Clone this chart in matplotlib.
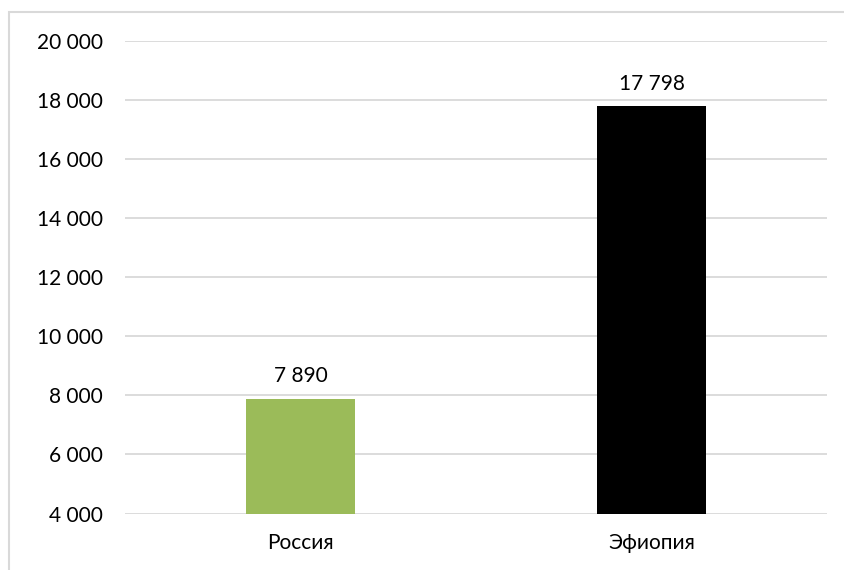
import matplotlib.pyplot as plt
from matplotlib.patches import Rectangle
from matplotlib.ticker import FuncFormatter

countries = ['Россия', 'Эфиопия']
values = [7890, 17798]
colors = ['#9BBB59', '#000000']
yticks = list(range(4000, 20001, 2000))

def fmt(v, pos=None):
    return f'{int(v):,}'.replace(',', ' ')

plt.rcParams['font.family'] = ['Lato', 'DejaVu Sans']
W, H = 844, 570
fig = plt.figure(figsize=(W/100, H/100), dpi=100)
# chart border (goes past right/bottom edge like the crop)
fig.patches.append(Rectangle((8.5/W, -0.1), 1.2, 1.1 - 12/H,
                             transform=fig.transFigure, fill=False,
                             edgecolor='#D9D9D9', linewidth=1.5))
ax = fig.add_axes([125/W, 1-513.5/H, (827-125)/W, (513.5-41.3)/H])

ax.bar(range(len(values)), values, width=0.313, color=colors, zorder=3)
ax.set_ylim(4000, 20000)
ax.set_xlim(-0.5, 1.5)
ax.set_yticks(yticks)
ax.yaxis.set_major_formatter(FuncFormatter(fmt))
ax.set_xticks(range(len(countries)))
ax.set_xticklabels(countries)
ax.grid(axis='y', color='#D9D9D9', linewidth=1.3, zorder=0)
for s in ax.spines.values():
    s.set_visible(False)
ax.tick_params(length=0, labelsize=15, colors='#000000')
ax.tick_params(axis='y', pad=16)
ax.tick_params(axis='x', pad=14)
for i, v in enumerate(values):
    ax.annotate(fmt(v), (i, v), xytext=(0, 9), textcoords='offset points',
                ha='center', va='bottom', fontsize=15)

fig.savefig('out.png', dpi=100)
